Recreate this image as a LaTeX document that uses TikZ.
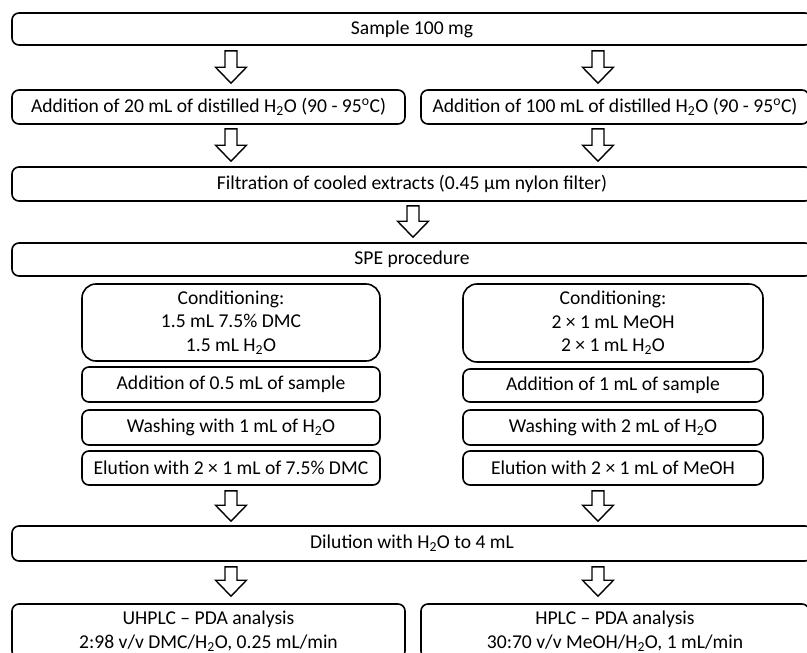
\documentclass[tikz,border=0pt]{standalone}
\usepackage{fontspec}
\setmainfont{Carlito}
\usetikzlibrary{calc}
\newcommand\blockarrow[2]{%
  \draw[barrow] let \p1=#1, \p2=#2 in
    (\x1-6pt,\y1) -- (\x1+6pt,\y1) -- (\x1+6pt,\y2+16pt) -- (\x1+15.5pt,\y2+16pt)
    -- (\x1,\y2) -- (\x1-15.5pt,\y2+16pt) -- (\x1-6pt,\y2+16pt) -- cycle;}
\begin{document}
\begin{tikzpicture}[x=1pt,y=-1pt,
  box/.style={draw, line width=1.6pt, rounded corners=7pt, inner sep=0pt,
    font=\fontsize{19.6}{23.5}\selectfont, align=center},
  widebox/.style={box, minimum width=800pt},
  halfl/.style={box, minimum width=393pt},
  halfr/.style={box, minimum width=388pt},
  subbox/.style={box, minimum width=298pt},
  condbox/.style={box, minimum width=298pt, rounded corners=14pt},
  barrow/.style={draw, line width=1.4pt, fill=white, line join=miter}]
\useasboundingbox (0,0) rectangle (807,653);
\clip (0,0) rectangle (807,653);
\coordinate (L) at (231,0);
\coordinate (R) at (598,0);
\coordinate (M) at (413,0);

\node[widebox, minimum height=32pt] (sample) at (412,29) {Sample 100 mg};
\node[halfl, minimum height=34pt] (add20) at (208.5,107)
  {Addition of 20 mL of distilled H\textsubscript{2}O (90 - 95\textsuperscript{o}C)};
\node[halfr, minimum height=34pt] (add100) at (615,107)
  {Addition of 100 mL of distilled H\textsubscript{2}O (90 - 95\textsuperscript{o}C)};
\node[widebox, minimum height=34pt] (filt) at (412,184)
  {Filtration of cooled extracts (0.45 µm nylon filter)};
\node[widebox, minimum height=33pt] (spe) at (412,259.5) {SPE procedure};

\node[condbox, minimum height=77pt] (condL) at (231,322.5)
  {Conditioning:\\1.5 mL 7.5\% DMC\\1.5 mL H\textsubscript{2}O};
\node[condbox, minimum width=300pt, minimum height=78pt] (condR) at (613,323)
  {Conditioning:\\2 × 1 mL MeOH\\2 × 1 mL H\textsubscript{2}O};

\node[subbox, minimum height=35pt] (addL) at (231,384.5) {Addition of 0.5 mL of sample};
\node[subbox, minimum height=35pt] (washL) at (231,427.5) {Washing with 1 mL of H\textsubscript{2}O};
\node[subbox, minimum height=34pt] (eluL) at (231,468) {Elution with 2 × 1 mL of 7.5\% DMC};

\node[subbox, minimum width=300pt, minimum height=33pt] (addR) at (613,385.5) {Addition of 1 mL of sample};
\node[subbox, minimum width=300pt, minimum height=35pt] (washR) at (613,427.5) {Washing with 2 mL of H\textsubscript{2}O};
\node[subbox, minimum width=300pt, minimum height=34pt] (eluR) at (613,468) {Elution with 2 × 1 mL of MeOH};

\node[widebox, minimum height=35pt] (dil) at (412,543.5) {Dilution with H\textsubscript{2}O to 4 mL};

\node[halfl, minimum height=54pt] (uhplc) at (208.5,631)
  {UHPLC – PDA analysis\\2:98 v/v DMC/H\textsubscript{2}O, 0.25 mL/min};
\node[halfr, minimum height=54pt] (hplc) at (615,631)
  {HPLC – PDA analysis\\30:70 v/v MeOH/H\textsubscript{2}O, 1 mL/min};

\blockarrow{($(sample.south -| L)+(0,5)$)}{($(add20.north -| L)+(0,-6)$)}
\blockarrow{($(sample.south -| R)+(0,5)$)}{($(add100.north -| R)+(0,-6)$)}
\blockarrow{($(add20.south -| L)+(0,4)$)}{($(filt.north -| L)+(0,-5)$)}
\blockarrow{($(add100.south -| R)+(0,4)$)}{($(filt.north -| R)+(0,-5)$)}
\blockarrow{($(filt.south -| M)+(0,4)$)}{($(spe.north -| M)+(0,-5)$)}
\blockarrow{($(eluL.south -| L)+(0,5)$)}{($(dil.north -| L)+(0,-4)$)}
\blockarrow{($(eluR.south -| R)+(0,5)$)}{($(dil.north -| R)+(0,-4)$)}
\blockarrow{($(dil.south -| L)+(0,5)$)}{($(uhplc.north -| L)+(0,-7)$)}
\blockarrow{($(dil.south -| R)+(0,5)$)}{($(hplc.north -| R)+(0,-7)$)}
\end{tikzpicture}
\end{document}
